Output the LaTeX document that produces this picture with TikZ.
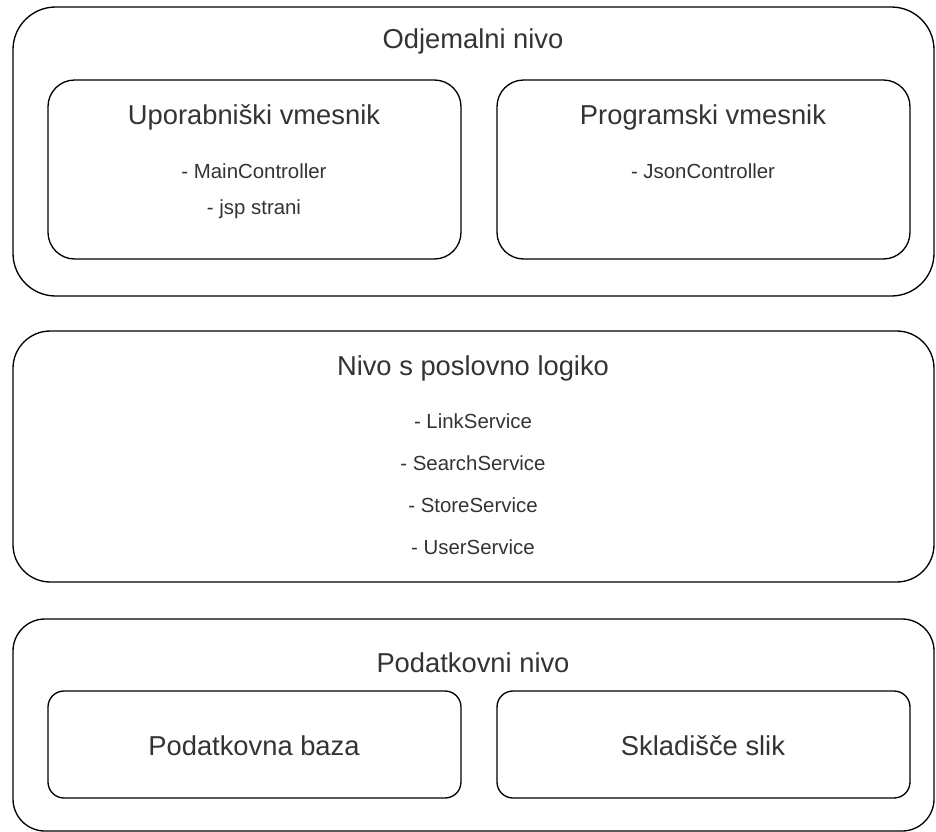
\documentclass[tikz,border=0pt]{standalone}
\usepackage{fontspec}
\setmainfont{Liberation Sans}
\begin{document}
\begin{tikzpicture}[x=0.75pt, y=-0.75pt,
            layer/.style={draw, line width=1pt, minimum width=690.75pt, inner sep=0pt},
            part/.style={draw, line width=1pt, minimum width=309.75pt, inner sep=0pt},
            title/.style={font=\fontsize{20.5}{24}\selectfont, text=black!80},
            item/.style={font=\fontsize{15.3}{18}\selectfont, text=black!80}
        ]
            \useasboundingbox (0, 0) rectangle (936, 832);
            % layers
            \node[layer, rounded corners=32pt, minimum height=216.75pt] (client) at (473.5, 151.5) {};
            \node[layer, rounded corners=28pt, minimum height=188.25pt] (logic) at (473.5, 456.5) {};
            \node[layer, rounded corners=24pt, minimum height=159pt] (data) at (473.5, 725) {};
            % parts
            \node[part, rounded corners=20pt, minimum height=134.25pt] (ui) at (254.5, 169.5) {};
            \node[part, rounded corners=20pt, minimum height=134.25pt] (api) at (703.5, 169.5) {};
            \node[part, rounded corners=12pt, minimum height=80.25pt] (db) at (254.5, 744.5) {};
            \node[part, rounded corners=12pt, minimum height=80.25pt] (img) at (703.5, 744.5) {};
            % texts
            \node[title] (clientT) at (473, 41) {Odjemalni nivo};
            \node[title] (uiT) at (254, 117) {Uporabniški vmesnik};
            \node[item] (uiA) at (254, 171) {- MainController};
            \node[item] (uiB) at (254, 209) {- jsp strani};
            \node[title] (apiT) at (703, 117) {Programski vmesnik};
            \node[item] (apiA) at (703, 171) {- JsonController};
            \node[title] (logicT) at (473, 368) {Nivo s poslovno logiko};
            \node[item] (logicA) at (473, 421) {- LinkService};
            \node[item] (logicB) at (473, 463) {- SearchService};
            \node[item] (logicC) at (473, 505) {- StoreService};
            \node[item] (logicD) at (473, 547) {- UserService};
            \node[title] (dataT) at (473, 663) {Podatkovni nivo};
            \node[title] (dbT) at (254, 746) {Podatkovna baza};
            \node[title] (imgT) at (703, 746) {Skladišče slik};
        \end{tikzpicture}
\end{document}
